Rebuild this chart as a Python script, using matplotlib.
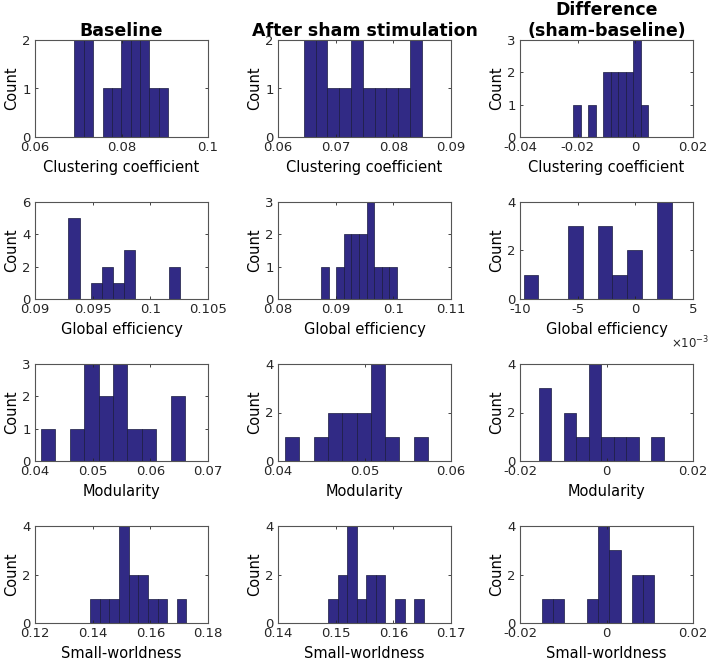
import matplotlib
matplotlib.use("Agg")
from matplotlib import pyplot as plt
import numpy as np

plt.rcParams["font.family"] = ["DejaVu Sans"]
plt.rcParams["axes.unicode_minus"] = False

titles = ["Baseline", "After sham stimulation", "Difference\n(sham-baseline)"]
xlabels = ["Clustering coefficient", "Global efficiency", "Modularity", "Small-worldness"]

# clustering coefficient (bin start, bin width, counts)
cc_base_start, cc_base_width = 0.0691, 0.00217
cc_base_counts = [2, 2, 0, 1, 1, 2, 2, 2, 1, 1]
cc_sham_start, cc_sham_width = 0.0645, 0.00204
cc_sham_counts = [2, 2, 1, 1, 2, 1, 1, 1, 1, 2]
cc_diff_start, cc_diff_width = -0.0215, 0.0026
cc_diff_counts = [1, 0, 1, 0, 2, 2, 2, 2, 3, 1]

# global efficiency
ge_base_start, ge_base_width = 0.0929, 0.000965
ge_base_counts = [5, 0, 1, 2, 1, 3, 0, 0, 0, 2]
ge_sham_start, ge_sham_width = 0.0875, 0.00131
ge_sham_counts = [1, 0, 1, 2, 2, 2, 3, 1, 1, 1]
ge_diff_start, ge_diff_width = -0.00969, 0.001283
ge_diff_counts = [1, 0, 0, 3, 0, 3, 1, 2, 0, 4]

# modularity
mod_base_start, mod_base_width = 0.04098, 0.00251
mod_base_counts = [1, 0, 1, 3, 2, 3, 1, 1, 0, 2]
mod_sham_start, mod_sham_width = 0.04083, 0.00165
mod_sham_counts = [1, 0, 1, 2, 2, 2, 4, 1, 0, 1]
mod_diff_start, mod_diff_width = -0.0157, 0.00289
mod_diff_counts = [3, 0, 2, 1, 4, 1, 1, 1, 0, 1]

# small-worldness
sw_base_start, sw_base_width = 0.13904, 0.00335
sw_base_counts = [1, 1, 1, 4, 2, 2, 1, 1, 0, 1]
sw_sham_start, sw_sham_width = 0.14867, 0.00166
sw_sham_counts = [1, 2, 4, 1, 2, 2, 0, 1, 0, 1]
sw_diff_start, sw_diff_width = -0.01496, 0.0026
sw_diff_counts = [1, 1, 0, 0, 1, 4, 3, 0, 2, 2]

# axis ticks
xticks = [
    [[0.06, 0.08, 0.1], [0.06, 0.07, 0.08, 0.09], [-0.04, -0.02, 0, 0.02]],
    [[0.09, 0.095, 0.1, 0.105], [0.08, 0.09, 0.1, 0.11], [-0.01, -0.005, 0, 0.005]],
    [[0.04, 0.05, 0.06, 0.07], [0.04, 0.05, 0.06], [-0.02, 0, 0.02]],
    [[0.12, 0.14, 0.16, 0.18], [0.14, 0.15, 0.16, 0.17], [-0.02, 0, 0.02]],
]
yticks = [
    [[0, 1, 2], [0, 1, 2], [0, 1, 2, 3]],
    [[0, 2, 4, 6], [0, 1, 2, 3], [0, 2, 4]],
    [[0, 1, 2, 3], [0, 2, 4], [0, 2, 4]],
    [[0, 2, 4], [0, 2, 4], [0, 2, 4]],
]

hists = [
    [(cc_base_start, cc_base_width, cc_base_counts),
     (cc_sham_start, cc_sham_width, cc_sham_counts),
     (cc_diff_start, cc_diff_width, cc_diff_counts)],
    [(ge_base_start, ge_base_width, ge_base_counts),
     (ge_sham_start, ge_sham_width, ge_sham_counts),
     (ge_diff_start, ge_diff_width, ge_diff_counts)],
    [(mod_base_start, mod_base_width, mod_base_counts),
     (mod_sham_start, mod_sham_width, mod_sham_counts),
     (mod_diff_start, mod_diff_width, mod_diff_counts)],
    [(sw_base_start, sw_base_width, sw_base_counts),
     (sw_sham_start, sw_sham_width, sw_sham_counts),
     (sw_diff_start, sw_diff_width, sw_diff_counts)],
]

W, H = 709, 663
fig = plt.figure(figsize=(W / 100, H / 100), dpi=100)

col_left = [35, 278, 520]
row_top = [40, 202, 364, 526]
ax_w, ax_h = 173, 97
bar_color = "#312a85"

for r in range(4):
    for c in range(3):
        ax = fig.add_axes([col_left[c] / W, 1 - (row_top[r] + ax_h) / H, ax_w / W, ax_h / H])
        start, width, counts = hists[r][c]
        edges = start + width * np.arange(len(counts) + 1)
        ax.bar(edges[:-1], counts, width=width, align="edge",
               color=bar_color, edgecolor="#1a1a40", linewidth=0.5)
        xt = xticks[r][c]
        yt = yticks[r][c]
        ax.set_xlim(xt[0], xt[-1])
        ax.set_ylim(yt[0], yt[-1])
        ax.set_xticks(xt)
        ax.set_yticks(yt)
        if r == 1 and c == 2:
            # scaled ticks with the exponent written under the right end
            ax.set_xticklabels(["%g" % (v * 1000) for v in xt])
            ax.text(0.87, -0.45, r"$\times10^{-3}$", transform=ax.transAxes,
                    fontsize=8.5, ha="left", va="center", color="#262626")
        else:
            ax.set_xticklabels(["%g" % v for v in xt])
        ax.set_yticklabels(["%g" % v for v in yt])
        ax.tick_params(direction="in", length=2.5, width=0.6, labelsize=9.5,
                       top=True, right=True, colors="#262626", pad=3)
        for s in ax.spines.values():
            s.set_color("#555555")
            s.set_linewidth(0.8)
        ax.set_ylabel("Count", fontsize=10.5, labelpad=2)
        ax.set_xlabel(xlabels[r], fontsize=10.5, labelpad=4)
        if r == 0:
            ax.set_title(titles[c], fontsize=12.5, fontweight="bold", pad=3)

fig.savefig("out.png", dpi=100)
